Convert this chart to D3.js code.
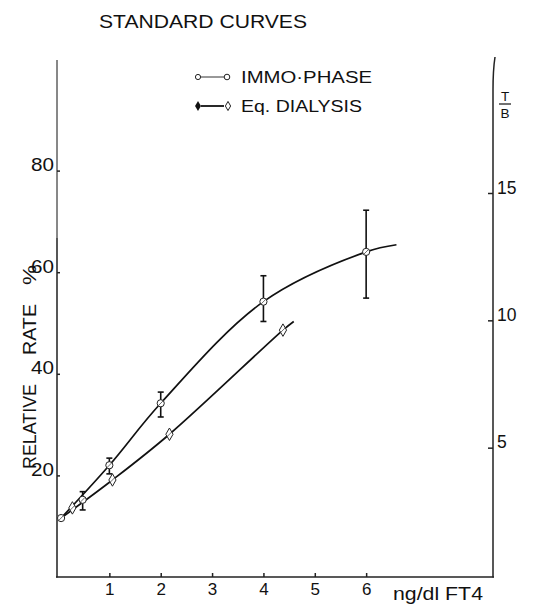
<!DOCTYPE html>
<html>
<head>
<meta charset="utf-8">
<script src="https://cdn.jsdelivr.net/npm/d3@7"></script>
<style>
  html, body { margin: 0; padding: 0; background: #fff; }
  svg { display: block; }
  text { font-family: "Liberation Sans", Arial, sans-serif; fill: #111; }
</style>
</head>
<body>
<svg id="chart" width="535" height="610"></svg>
<script>
// ---- data ----
const xTicks = [1, 2, 3, 4, 5, 6];
const leftTicks = [20, 40, 60, 80];
const rightTicks = [5, 10, 15];

// IMMO-PHASE markers with error bars
const immoX = [0.06, 0.48, 1, 2, 4, 6];
const immoY = [11.6, 15.2, 22.0, 34.2, 54.2, 64.0];
const immoLow = [null, 13.2, 20.3, 31.5, 50.3, 54.9];
const immoHigh = [null, 16.8, 23.4, 36.4, 59.3, 72.2];
// IMMO-PHASE fitted curve
const immoCurveX = [0.06, 1, 2, 4, 6, 6.59];
const immoCurveY = [11.6, 22.0, 34.2, 54.2, 64.0, 65.4];

// Eq. DIALYSIS markers
const eqX = [0.28, 1.06, 2.17, 4.38];
const eqY = [13.6, 19.1, 28.1, 48.6];
// Eq. DIALYSIS fitted curve
const eqCurveX = [0.06, 1.06, 2.17, 4.38, 4.59];
const eqCurveY = [11.6, 19.1, 28.1, 48.6, 50.3];

const svg = d3.select("#chart");

const x = d3.scaleLinear().domain([0, 8.47]).range([58, 493]);
const yL = d3.scaleLinear().domain([0, 80]).range([577, 170.6]);
const yR = d3.scaleLinear().domain([0, 15]).range([575, 193]);

const FONT = "Liberation Sans, Arial, sans-serif";

// title
svg.append("text").attr("x", 99).attr("y", 28)
  .attr("font-size", 18).attr("textLength", 208).attr("lengthAdjust", "spacingAndGlyphs")
  .text("STANDARD  CURVES");

// axes lines
svg.append("line").attr("x1", 57).attr("x2", 57).attr("y1", 60).attr("y2", 238)
  .attr("stroke", "#111").attr("stroke-width", 1);
svg.append("line").attr("x1", 57).attr("x2", 57).attr("y1", 238).attr("y2", 577.5)
  .attr("stroke", "#444").attr("stroke-width", 1.8);
svg.append("path").attr("d", "M495,57 Q493,70 493,90 L493,577.5")
  .attr("fill", "none").attr("stroke", "#222").attr("stroke-width", 1.5);
svg.append("line").attr("x1", 56).attr("x2", 494).attr("y1", 577).attr("y2", 577)
  .attr("stroke", "#222").attr("stroke-width", 1.5);

// bottom axis
const xAxis = d3.axisBottom(x).tickValues(xTicks).tickSize(-4).tickPadding(6)
  .tickFormat(d3.format("d"));
const gx = svg.append("g").attr("transform", "translate(0,577)").call(xAxis);
gx.select(".domain").remove();
gx.selectAll("line").attr("stroke", "#222").attr("stroke-width", 1.5);
gx.selectAll("text").attr("font-size", 17).attr("y", 6).attr("dy", "0.71em")
  .attr("font-family", FONT).attr("fill", "#111");

// left axis
const yAxisL = d3.axisLeft(yL).tickValues(leftTicks).tickSize(-3).tickPadding(7);
const gl = svg.append("g").attr("transform", "translate(57,0)").call(yAxisL);
gl.select(".domain").remove();
gl.selectAll("line").attr("stroke", "#222").attr("stroke-width", 1.5);
gl.selectAll("text").attr("font-size", 18.5).attr("dy", 0).attr("x", -3)
  .attr("textLength", 23).attr("lengthAdjust", "spacingAndGlyphs")
  .attr("font-family", FONT).attr("fill", "#111");

// right axis
const yAxisR = d3.axisRight(yR).tickValues(rightTicks).tickSize(-5).tickPadding(9);
const gr = svg.append("g").attr("transform", "translate(493,0)").call(yAxisR);
gr.select(".domain").remove();
gr.selectAll("line").attr("stroke", "#222").attr("stroke-width", 1.5);
gr.selectAll("text").attr("font-size", 17.5).attr("dy", 0).attr("x", 4)
  .attr("font-family", FONT).attr("fill", "#111");

// axis titles (rotated y title, words placed as in the reference)
const yTitle = [["RELATIVE", 469, 85], ["RATE", 355, 51], ["%", 285, 20]];
yTitle.forEach(([t, start, len]) => {
  svg.append("text").attr("transform", `translate(36,${start}) rotate(-90)`)
    .attr("font-size", 18).attr("textLength", len).attr("lengthAdjust", "spacingAndGlyphs")
    .text(t);
});
svg.append("text").attr("x", 393).attr("y", 600).attr("font-size", 17.5)
  .attr("textLength", 90).attr("lengthAdjust", "spacingAndGlyphs").text("ng/dl  FT4");
svg.append("text").attr("x", 505).attr("y", 101).attr("font-size", 13.5)
  .attr("text-anchor", "middle").text("T");
svg.append("line").attr("x1", 499).attr("x2", 511).attr("y1", 104).attr("y2", 104)
  .attr("stroke", "#111").attr("stroke-width", 1.2);
svg.append("text").attr("x", 505).attr("y", 117.5).attr("font-size", 13.5)
  .attr("text-anchor", "middle").text("B");

// curves
const line = d3.line().x(d => x(d[0])).y(d => yL(d[1])).curve(d3.curveCatmullRom.alpha(0.5));
svg.append("path").datum(d3.zip(immoCurveX, immoCurveY)).attr("d", line)
  .attr("fill", "none").attr("stroke", "#111").attr("stroke-width", 1.7);
svg.append("path").datum(d3.zip(eqCurveX, eqCurveY)).attr("d", line)
  .attr("fill", "none").attr("stroke", "#111").attr("stroke-width", 1.7);

// error bars
const errs = d3.range(immoX.length).filter(i => immoLow[i] != null);
const ge = svg.append("g").attr("stroke", "#111").attr("stroke-width", 1.6);
errs.forEach(i => {
  const cx = x(immoX[i]);
  ge.append("line").attr("x1", cx).attr("x2", cx).attr("y1", yL(immoLow[i])).attr("y2", yL(immoHigh[i]));
  ge.append("line").attr("x1", cx - 3).attr("x2", cx + 3).attr("y1", yL(immoLow[i])).attr("y2", yL(immoLow[i]));
  ge.append("line").attr("x1", cx - 3).attr("x2", cx + 3).attr("y1", yL(immoHigh[i])).attr("y2", yL(immoHigh[i]));
});

// markers
d3.range(immoX.length).forEach(i => {
  const cx = x(immoX[i]), cy = yL(immoY[i]);
  svg.append("circle").attr("cx", cx).attr("cy", cy).attr("r", 3.6)
    .attr("fill", "#fff").attr("stroke", "#222").attr("stroke-width", 1);
  svg.append("line").attr("x1", cx - 2.5).attr("x2", cx + 2.5).attr("y1", cy + 2.5).attr("y2", cy - 2.5)
    .attr("stroke", "#444").attr("stroke-width", 0.8);
});
const diamond = d3.symbol().type(d3.symbolDiamond).size(45);
d3.range(eqX.length).forEach(i => {
  const cx = x(eqX[i]), cy = yL(eqY[i]);
  svg.append("path").attr("d", diamond).attr("transform", `translate(${cx},${cy})`)
    .attr("fill", "#fff").attr("stroke", "#222").attr("stroke-width", 1);
  svg.append("line").attr("x1", cx - 2.5).attr("x2", cx + 2.5).attr("y1", cy + 2.5).attr("y2", cy - 2.5)
    .attr("stroke", "#444").attr("stroke-width", 0.8);
});

// legend
const lg = svg.append("g");
lg.append("circle").attr("cx", 198).attr("cy", 77).attr("r", 2.6).attr("fill", "#fff").attr("stroke", "#222").attr("stroke-width", 1);
lg.append("line").attr("x1", 201).attr("x2", 224).attr("y1", 77).attr("y2", 77).attr("stroke", "#333").attr("stroke-width", 1);
lg.append("circle").attr("cx", 227).attr("cy", 77).attr("r", 2.8).attr("fill", "#fff").attr("stroke", "#222").attr("stroke-width", 1);
lg.append("text").attr("x", 241).attr("y", 83).attr("font-size", 16).attr("textLength", 131).attr("lengthAdjust", "spacingAndGlyphs").text("IMMO·PHASE");
lg.append("path").attr("d", d3.symbol().type(d3.symbolDiamond).size(30)).attr("transform", "translate(198,106)").attr("fill", "#111");
lg.append("line").attr("x1", 201).attr("x2", 224).attr("y1", 106).attr("y2", 106).attr("stroke", "#111").attr("stroke-width", 1.8);
lg.append("path").attr("d", d3.symbol().type(d3.symbolDiamond).size(24)).attr("transform", "translate(228,106)").attr("fill", "#fff").attr("stroke", "#222").attr("stroke-width", 1);
lg.append("text").attr("x", 241).attr("y", 112).attr("font-size", 16).attr("textLength", 121).attr("lengthAdjust", "spacingAndGlyphs").text("Eq. DIALYSIS");
</script>
</body>
</html>
